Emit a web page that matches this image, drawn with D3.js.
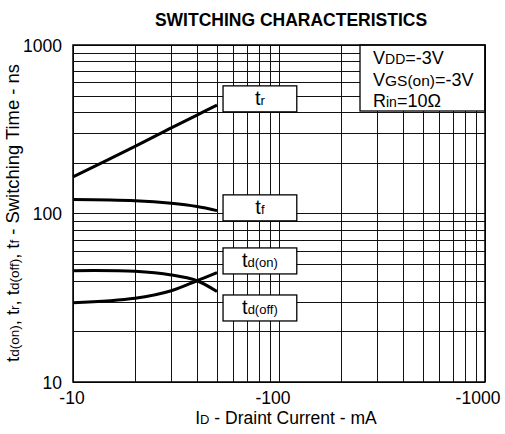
<!DOCTYPE html>
<html>
<head>
<meta charset="utf-8">
<script src="https://cdn.jsdelivr.net/npm/d3@7"></script>
<style>
  html, body { margin: 0; padding: 0; background: #fff; }
  svg { display: block; font-family: "Liberation Sans", Arial, sans-serif; }
</style>
</head>
<body>
<svg id="chart" width="505" height="434"></svg>
<script>
// ---- data ----
const currents = [-10, -20, -30, -40, -50];          // ID, mA
const tr     = [165, 250, 322, 384, 440];             // ns
const tf     = [121, 119, 115, 110, 104];
const tdOn   = [29.5, 31.4, 34.8, 39.9, 44.6];
const tdOff  = [45.8, 45.4, 43.2, 39.9, 34.4];
const seriesNames = [["t", "r"], ["t", "f"], ["t", "d(on)"], ["t", "d(off)"]];
const labelValues = [479, 108, 52.3, 27.5];           // ns, vertical centre of each label box
const xTickLabels = ["-10", "-100", "-1000"];
const xTickValues = [-10, -100, -1000];
const yTickLabels = ["10", "100", "1000"];
const yTickValues = [10, 100, 1000];
const conditions = [["V", "DD", "=-3V"], ["V", "GS(on)", "=-3V"], ["R", "in", "=10Ω"]];

const svg = d3.select("#chart");
const L = 73, R = 485, T = 45, B = 382;

const x = d3.scaleLog().domain([-10, -1000]).range([L, R]);
const y = d3.scaleLog().domain([10, 1000]).range([B, T]);

// grid ticks
const xGrid = [];
for (let d = 10; d < 1000; d *= 10) for (let k = 1; k <= 9; k++) xGrid.push(-d * k);
xGrid.push(-1000);
const yGrid = [];
for (let d = 10; d < 1000; d *= 10) for (let k = 1; k <= 9; k++) yGrid.push(d * k);
yGrid.push(1000);

const grid = svg.append("g").attr("stroke", "#111").attr("stroke-width", 1).attr("shape-rendering", "crispEdges");
grid.selectAll("line.v").data(xGrid).join("line")
  .attr("x1", d => Math.round(x(d)) + 0.5).attr("x2", d => Math.round(x(d)) + 0.5)
  .attr("y1", T).attr("y2", B);
grid.selectAll("line.h").data(yGrid).join("line")
  .attr("y1", d => Math.round(y(d)) + 0.5).attr("y2", d => Math.round(y(d)) + 0.5)
  .attr("x1", L).attr("x2", R);

// curves
const line = d3.line().x((d, i) => x(currents[i])).y(d => y(d)).curve(d3.curveCatmullRom.alpha(0.5));
[tr, tf, tdOn, tdOff].forEach(s => {
  svg.append("path").attr("d", line(s)).attr("fill", "none")
    .attr("stroke", "#000").attr("stroke-width", 3).attr("stroke-linecap", "butt");
});

// label boxes
const boxX0 = x(-53.5), boxX1 = x(-122), boxH = 26;
seriesNames.forEach((nm, i) => {
  const cy = y(labelValues[i]);
  const g = svg.append("g");
  g.append("rect").attr("x", boxX0).attr("y", cy - boxH / 2).attr("width", boxX1 - boxX0).attr("height", boxH)
    .attr("fill", "#fff").attr("stroke", "#000").attr("stroke-width", 1.3);
  const t = g.append("text").attr("x", (boxX0 + boxX1) / 2).attr("y", cy + 6)
    .attr("text-anchor", "middle").attr("fill", "#000");
  t.append("tspan").attr("font-size", 20).text(nm[0]);
  t.append("tspan").attr("font-size", 13).text(nm[1]);
});

// conditions box
svg.append("rect").attr("x", 360).attr("y", T).attr("width", R - 360).attr("height", 66)
  .attr("fill", "#fff").attr("stroke", "#000").attr("stroke-width", 1.3);
conditions.forEach((c, i) => {
  const t = svg.append("text").attr("x", 373).attr("y", 64 + i * 21.5).attr("fill", "#000");
  t.append("tspan").attr("font-size", 18).text(c[0]);
  t.append("tspan").attr("font-size", i === 1 ? 15.5 : 14).text(c[1]);
  t.append("tspan").attr("font-size", 18).text(c[2]);
});

// frame
svg.append("rect").attr("x", L).attr("y", T).attr("width", R - L).attr("height", B - T)
  .attr("fill", "none").attr("stroke", "#000").attr("stroke-width", 1.5);

// tick labels
const xShift = [-1, -6, -7];
svg.selectAll("text.xt").data(xTickValues).join("text")
  .attr("x", (d, i) => x(d) + xShift[i]).attr("y", 404).attr("text-anchor", "middle")
  .attr("font-size", 17.5).text((d, i) => xTickLabels[i]);
svg.selectAll("text.yt").data(yTickValues).join("text")
  .attr("x", 62).attr("y", d => y(d) + 6.5).attr("text-anchor", "end")
  .attr("font-size", 17.5).text((d, i) => yTickLabels[i]);

// title
svg.append("text").attr("x", 291).attr("y", 26).attr("text-anchor", "middle")
  .attr("font-size", 17.5).attr("font-weight", "bold").text("SWITCHING CHARACTERISTICS");

// x label
const xl = svg.append("text").attr("x", 286).attr("y", 424).attr("text-anchor", "middle");
xl.append("tspan").attr("font-size", 17.5).text("I");
xl.append("tspan").attr("font-size", 13).text("D");
xl.append("tspan").attr("font-size", 17.5).text(" - Draint Current - mA");

// y label (sizes scaled so the whole label spans the reference's length)
const yParts = [["t",17],["d(on)",12.5],[", t",17],["r",12.5],[", t",17],["d(off)",12.5],[", t",17],["f",12.5],[" - Switching Time - ns",17]];
const yl = svg.append("text").attr("transform", "translate(19,213) rotate(-90)").attr("text-anchor", "middle");
const spans = yParts.map(p => yl.append("tspan").attr("font-size", p[1]).text(p[0]));
const len = yl.node().getComputedTextLength();
const k = 298 / len;
spans.forEach((s, i) => s.attr("font-size", yParts[i][1] * k));
</script>
</body>
</html>
